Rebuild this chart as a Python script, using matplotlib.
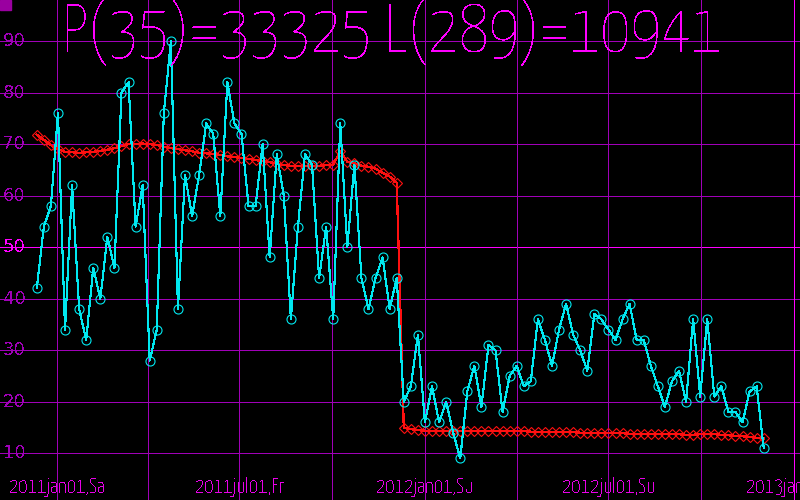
import math
import matplotlib
matplotlib.use('Agg')
import matplotlib.pyplot as plt
import matplotlib.transforms as mtransforms
from matplotlib import font_manager as fm
from matplotlib.ft2font import FT2Font
from matplotlib.patches import Rectangle
import pandas as pd

# weekly series, first point 2010-12-12
start_date = '2010-12-12'
cyan_values = [42, 54, 58, 76, 34, 62, 38, 32, 46, 40, 52, 46, 80, 82, 54, 62, 28, 34, 76, 90, 38, 64, 56,
               64, 74, 72, 56, 82, 74, 72, 58, 58, 70, 48, 68, 60, 36, 54, 68, 66, 44, 54, 36, 74, 50, 66,
               44, 38, 44, 48, 38, 44,
               20, 23, 33, 16, 23, 16, 20, 14, 9, 22, 27, 19, 31, 30, 18, 25, 27, 23, 24, 36, 32, 27, 34,
               39, 33, 30, 26, 37, 36, 34, 32, 36, 39, 32, 32, 27, 23, 19, 24, 26, 20, 36, 21, 36, 21, 23,
               18, 18, 16, 22, 23, 11]
red_values = [71.8, 70.8, 69.8, 69.0, 68.5, 68.4, 68.3, 68.4, 68.5, 68.7, 68.9, 69.2, 69.6, 70.0, 70.0,
              70.1, 70.0, 69.8, 69.5, 69.2, 69.0, 68.8, 68.6, 68.3, 68.2, 68.1, 67.9, 67.6, 67.5, 67.3,
              67.1, 66.9, 66.7, 66.5, 66.2, 65.9, 65.8, 65.7, 65.7, 65.7, 65.8, 65.9, 66.0, 68.6, 66.6,
              66.3, 65.8, 65.6, 65.2, 64.4, 63.7, 62.5,
              15.0, 14.7, 14.5, 14.4, 14.3, 14.3, 14.3, 14.3, 14.4, 14.4, 14.4, 14.4, 14.4, 14.4, 14.3,
              14.3, 14.3, 14.3, 14.2, 14.2, 14.2, 14.2, 14.1, 14.1, 14.1, 14.0, 14.0, 14.0, 14.0, 13.9,
              13.9, 13.9, 13.8, 13.8, 13.8, 13.8, 13.7, 13.7, 13.7, 13.7, 13.6, 13.6, 13.7, 13.7, 13.7,
              13.6, 13.5, 13.4, 13.3, 13.2, 13.0, 12.9]

y_ticks = [10, 20, 30, 40, 50, 60, 70, 80, 90]
grid_dates = ['2011-01-01', '2011-04-01', '2011-07-01', '2011-10-01', '2012-01-01',
              '2012-04-01', '2012-07-01', '2012-10-01', '2013-01-01']
label_dates = ['2011-01-01', '2011-07-01', '2012-01-01', '2012-07-01', '2013-01-01']
label_texts = ['2011jan01,Sa', '2011jul01,Fr', '2012jan01,Su', '2012jul01,Su', '2013jan01,Tu']
title_text = 'P(35)=33325 L(289)=10941'

DIM = '#a000b8'
BRIGHT = '#ff00ff'
XLAB = '#e800e8'
CYAN = '#00e8f0'
RED = '#ff1010'

plt.rcParams['text.antialiased'] = False


def fitting_font(sample, target):
    # title in the picture is 660 px wide for 47 px capitals: find an installed
    # latin face with about that shape, lightest if several come close
    scored = []
    seen = set()
    for f in fm.fontManager.ttflist:
        if 'CJK' in f.name or 'mpl-data' in f.fname or f.style != 'normal' or f.fname in seen:
            continue
        seen.add(f.fname)
        try:
            ft = FT2Font(f.fname)
            ft.set_size(100, 72)
            ft.set_text(sample, 0.0)
            w = ft.get_width_height()[0]
            h = ft.load_char(ord('P')).height
        except Exception:
            continue
        if h <= 0 or w <= 0:
            continue
        wt = f.weight if isinstance(f.weight, int) else fm.weight_dict.get(f.weight, 400)
        scored.append((abs(math.log(w / h / target)), wt, f.fname))
    if not scored:
        return fm.FontProperties(family='DejaVu Sans')
    best = min(s[0] for s in scored)
    close = [s for s in scored if s[0] <= best + 0.06 and s[1] >= 200]
    if not close:
        close = [s for s in scored if s[0] <= best + 0.06]
    close.sort(key=lambda s: (s[1], s[0]))
    return fm.FontProperties(fname=close[0][2])


tfont = fitting_font(title_text, 660 / 47)

dates = pd.date_range(start_date, periods=len(cyan_values), freq='7D')

fig = plt.figure(figsize=(8, 5), dpi=100, facecolor='black')
ax = fig.add_axes([0, 0, 1, 1])
ax.set_facecolor('black')
for s in ax.spines.values():
    s.set_visible(False)

ax.plot(dates, red_values, color=RED, lw=0.9, marker='D', ms=5.4, mfc='none', mec=RED,
        mew=0.8, antialiased=False, zorder=3)
ax.plot(dates, cyan_values, color=CYAN, lw=0.8, marker='o', ms=6.5, mfc='none', mec=CYAN,
        mew=0.8, antialiased=False, zorder=4)

ax.set_xticks([])
ax.set_yticks([])
ax.set_xlim(pd.Timestamp('2011-01-01') - pd.Timedelta(days=56.5),
            pd.Timestamp('2013-01-01') + pd.Timedelta(days=6))
ax.set_ylim(0.94, 97.95)

# grid
for v in y_ticks:
    ax.axhline(v, color=BRIGHT if v == 50 else DIM, lw=0.6, antialiased=False, zorder=1)
for d in grid_dates:
    ax.axvline(pd.Timestamp(d), color=BRIGHT if d == '2013-01-01' else DIM, lw=0.6,
               antialiased=False, zorder=1)

# y labels
ytr = mtransforms.blended_transform_factory(ax.transAxes, ax.transData)
for v in y_ticks:
    ax.text(3 / 800, v, str(v), transform=ytr, ha='left', va='center', fontsize=13,
            color=BRIGHT if v == 50 else DIM, zorder=2)

# x labels
xtr = mtransforms.blended_transform_factory(ax.transData, ax.transAxes)
xlabels = []
for d, t in zip(label_dates, label_texts):
    xlabels.append(ax.text(pd.Timestamp(d), 1 - 487 / 500, t, transform=xtr, ha='center',
                           va='center', fontsize=13, color=XLAB, fontproperties=tfont, zorder=2))

title = ax.text(62 / 800, 1 - 52 / 500, title_text, transform=ax.transAxes, ha='left',
                va='baseline', fontsize=46, color=BRIGHT, fontproperties=tfont, zorder=5)

# scale fonts to the widths seen in the picture
renderer = fig.canvas.get_renderer()
title.set_fontsize(46)
w = title.get_window_extent(renderer).width
title.set_fontsize(min(46 * 660 / w, 50))
for t in xlabels:
    t.set_fontsize(13)
w = xlabels[0].get_window_extent(renderer).width
for t in xlabels:
    t.set_fontsize(min(13 * 96 / w, 15))

fig.patches.append(Rectangle((0, 490 / 500), 11 / 800, 10 / 500, transform=fig.transFigure,
                             color='#9a00a0'))

fig.savefig('out.png', dpi=100, facecolor='black')
